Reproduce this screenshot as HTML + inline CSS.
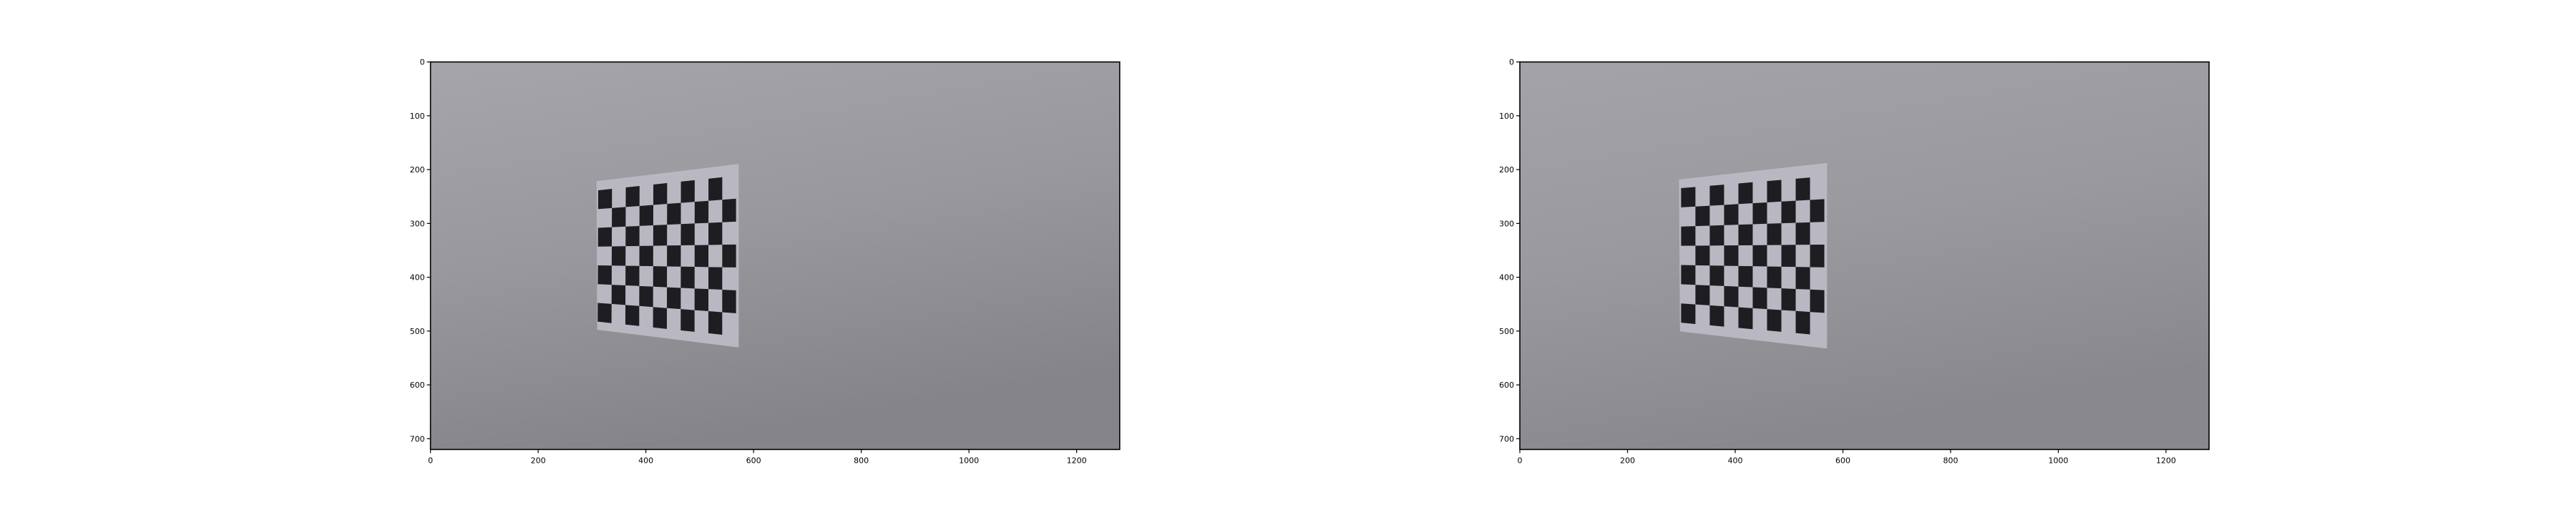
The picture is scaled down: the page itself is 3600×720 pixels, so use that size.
<!DOCTYPE html>
<html><head><meta charset="utf-8"><style>
html,body{margin:0;padding:0;background:#fff;}
svg{display:block;font-family:"DejaVu Sans","Liberation Sans",sans-serif;}
</style></head><body>
<svg id="fig" width="3600" height="720" viewBox="0 0 3600 720" xmlns="http://www.w3.org/2000/svg">
<defs>
<linearGradient id="bgL" x1="0" y1="0" x2="0.3" y2="1">
<stop offset="0" stop-color="#a6a5aa"/><stop offset="0.5" stop-color="#99989d"/><stop offset="1" stop-color="#858489"/></linearGradient>
<linearGradient id="bgR" x1="0" y1="0" x2="0.3" y2="1">
<stop offset="0" stop-color="#a4a3a8"/><stop offset="0.5" stop-color="#9a999e"/><stop offset="1" stop-color="#89888d"/></linearGradient>
</defs>
<g id="root"></g>
</svg>
<script>
const NS='http://www.w3.org/2000/svg';
const xTicks=[0,200,400,600,800,1000,1200];
const yTicks=[0,100,200,300,400,500,600,700];
const imgW=[1280,1280];
const imgH=[720,720];
// paper corners in image coords (TL,TR,BR,BL)
const paperL=[[308,221],[572,189],[572,530],[309,497]];
const gridL=[[311,238],[567,211],[567,509],[310,482]];
const paperR=[[295,218],[570,187],[570,532],[297,500]];
const gridR=[[299,234],[565,212],[565,508],[299,484]];
const cols=10, rows=7;
const panels=[{x0:601.6,y0:86.6,w:963.2,h:541.8,bg:'url(#bgL)',paper:paperL,grid:gridL,name:'left'},
              {x0:2124,y0:86.6,w:963.2,h:541.8,bg:'url(#bgR)',paper:paperR,grid:gridR,name:'right'}];
const root=document.getElementById('root');
function mk(t,a,p){const e=document.createElementNS(NS,t);for(const k in a)e.setAttribute(k,a[k]);(p||root).appendChild(e);return e;}
panels.forEach((P,pi)=>{
  const g=mk('g',{});
  
  
  const sx=v=>P.x0+(v+0.5)/imgW[pi]*P.w, sy=v=>P.y0+(v+0.5)/imgH[pi]*P.h;
  const bg=mk('rect',{x:P.x0,y:P.y0,width:P.w,height:P.h,fill:P.bg},g);
  
  
  const pp=mk('polygon',{points:P.paper.map(c=>sx(c[0])+','+sy(c[1])).join(' '),fill:'#b9b8c2'},g);
  
  
  const G=P.grid;
  function bil(u,v){const x=(1-u)*(1-v)*G[0][0]+u*(1-v)*G[1][0]+u*v*G[2][0]+(1-u)*v*G[3][0];
    const y=(1-u)*(1-v)*G[0][1]+u*(1-v)*G[1][1]+u*v*G[2][1]+(1-u)*v*G[3][1];return [sx(x),sy(y)];}
  for(let r=0;r<rows;r++)for(let c=0;c<cols;c++){
    if((r+c)%2)continue;
    const pts=[bil(c/cols,r/rows),bil((c+1)/cols,r/rows),bil((c+1)/cols,(r+1)/rows),bil(c/cols,(r+1)/rows)];
    const sq=mk('polygon',{points:pts.map(p=>p.join(',')).join(' '),fill:'#1e1d22'},g);
    
    
  }
  const fr=mk('rect',{x:P.x0,y:P.y0,width:P.w,height:P.h,fill:'none',stroke:'#000','stroke-width':1.6},g);
  
  
  xTicks.forEach(t=>{const x=P.x0+(t)/imgW[pi]*P.w;
    mk('line',{x1:x,y1:P.y0+P.h,x2:x,y2:P.y0+P.h+5,stroke:'#000','stroke-width':1.2},g);
    const tx=mk('text',{x:x,y:P.y0+P.h+19,'font-size':11,'text-anchor':'middle',fill:'#000'},g);tx.textContent=t;
    
    });
  yTicks.forEach(t=>{const y=P.y0+(t)/imgH[pi]*P.h;
    mk('line',{x1:P.x0-5,y1:y,x2:P.x0,y2:y,stroke:'#000','stroke-width':1.2},g);
    const tx=mk('text',{x:P.x0-8,y:y+4,'font-size':11,'text-anchor':'end',fill:'#000'},g);tx.textContent=t;
    
    });
});
</script>
</body></html>
